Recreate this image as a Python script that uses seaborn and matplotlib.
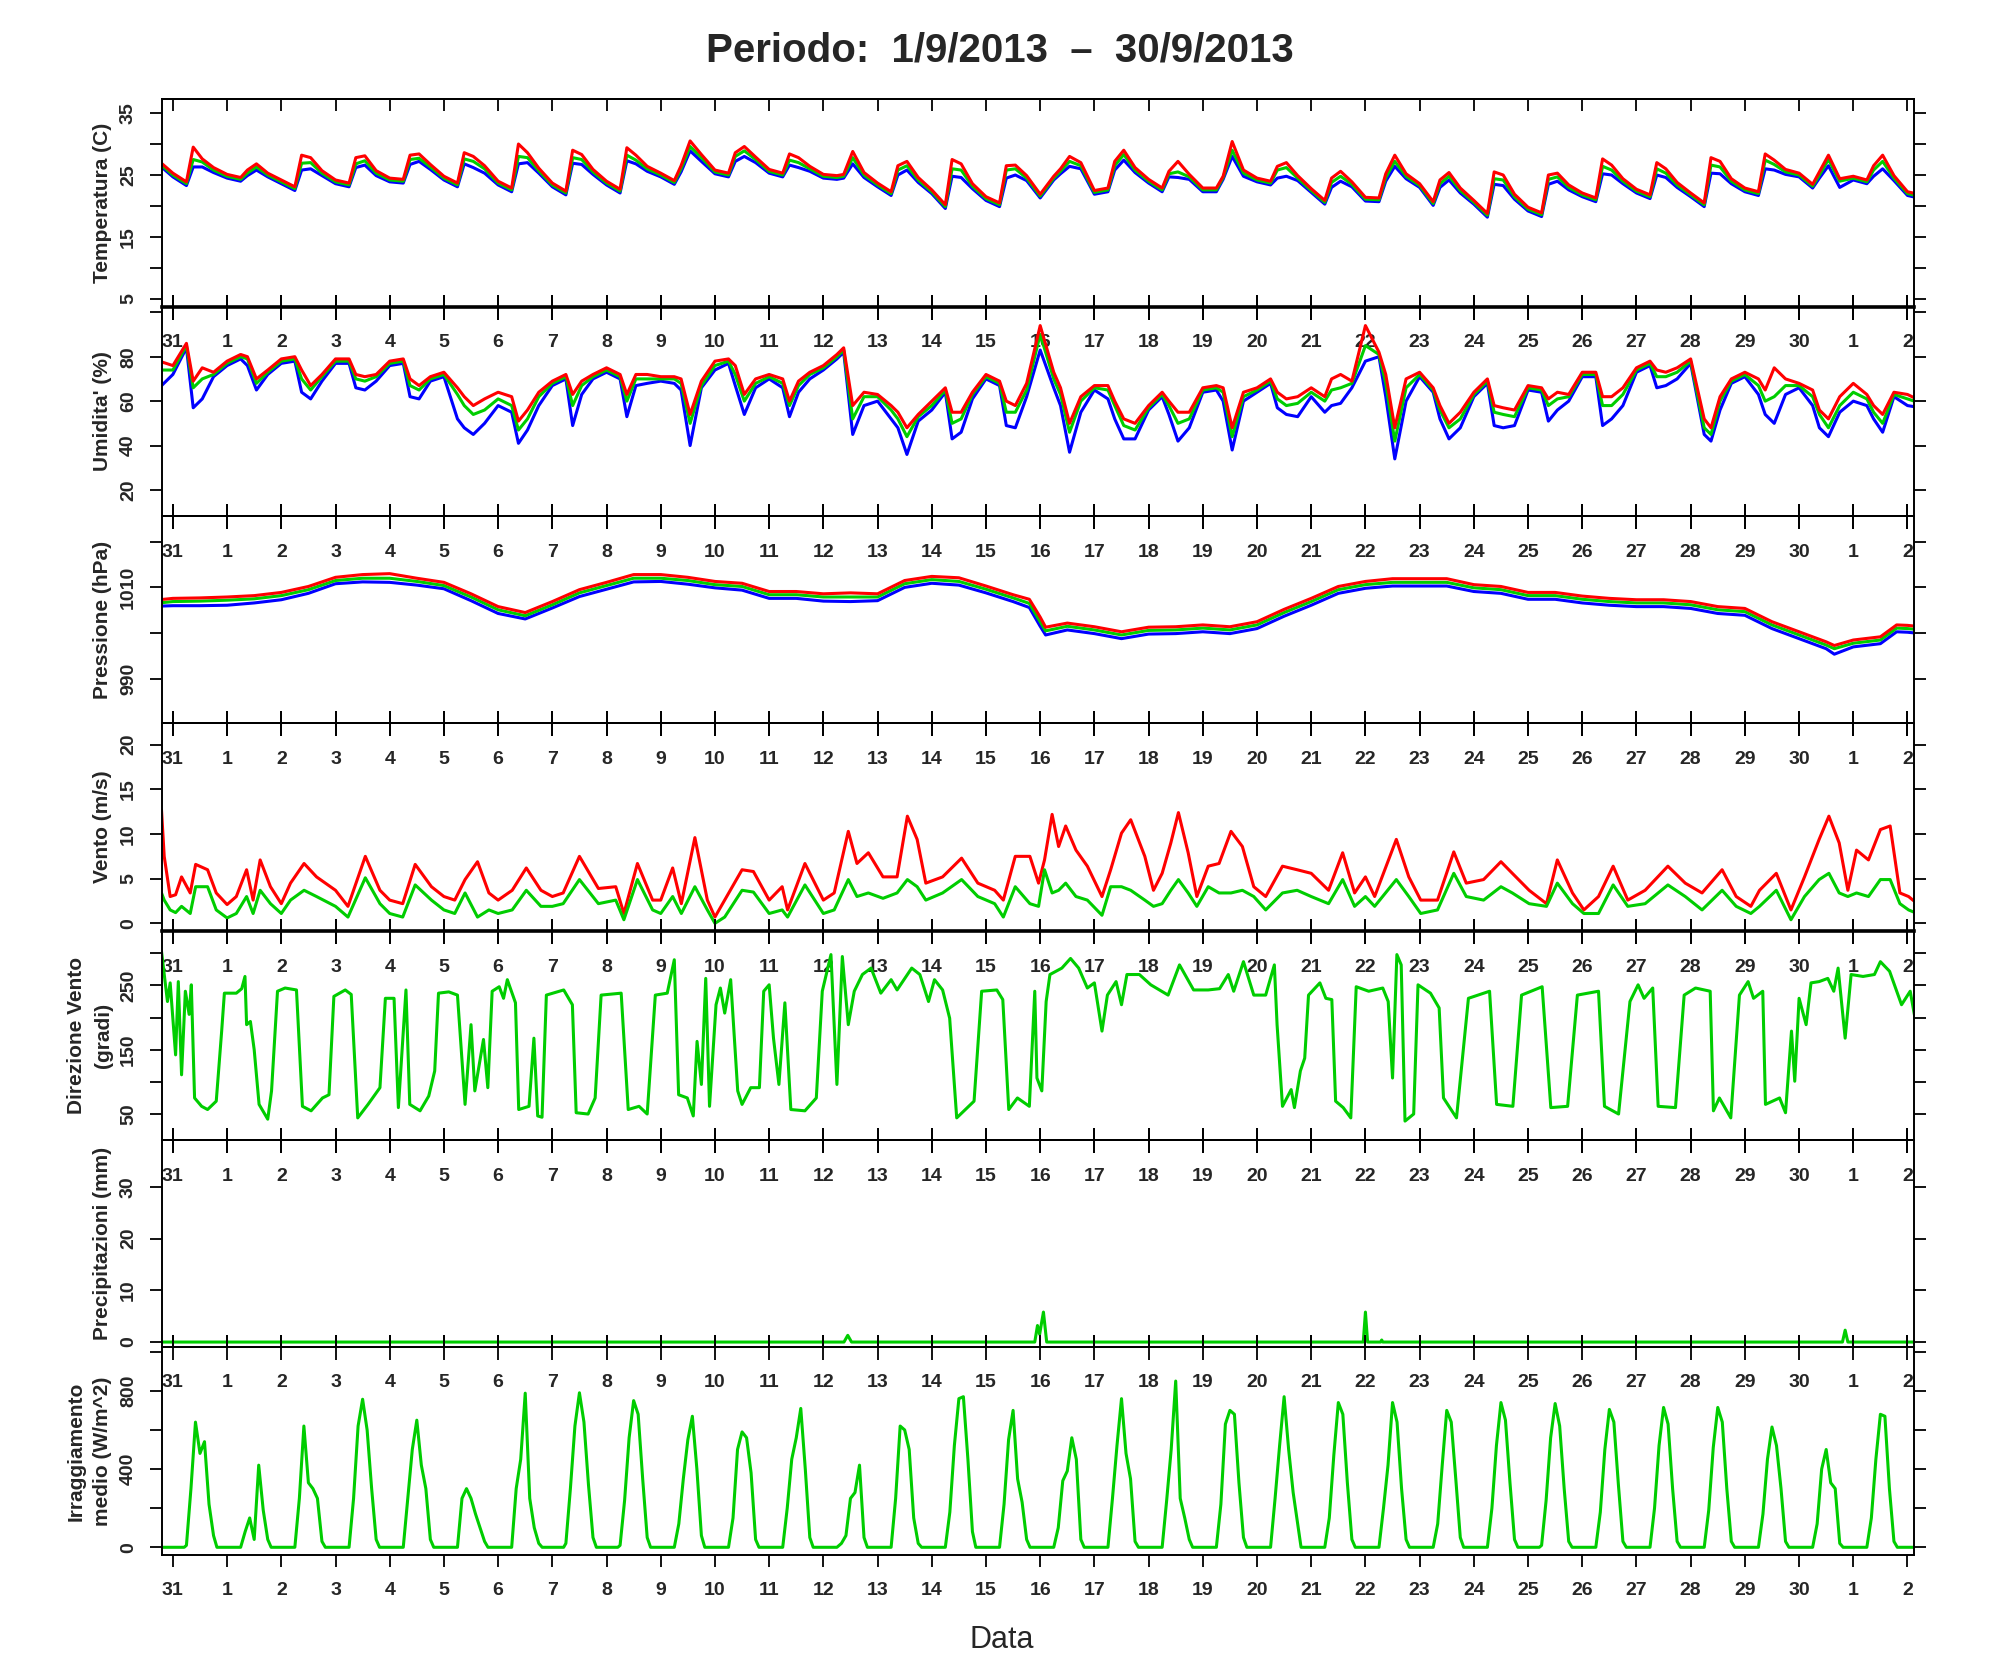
import numpy as np
import matplotlib
matplotlib.use("Agg")
import matplotlib.pyplot as plt
import seaborn as sns

# ---------------- DATA ----------------
DAY_LABELS = ["31", "1", "2", "3", "4", "5", "6", "7", "8", "9", "10", "11", "12", "13", "14", "15",
              "16", "17", "18", "19", "20", "21", "22", "23", "24", "25", "26", "27", "28", "29", "30",
              "1", "2"]
TITLE = "Periodo:  1/9/2013  \u2013  30/9/2013"

# temperature / humidity: one row per day (31 Aug ... 2 Oct) at hours 0, 6, 9, 13, 18
TH_HOURS = [0, 6, 9, 13, 18]
temp_lead = (27.2, 26.9, 26.6)   # 30 Aug 18h (max, mean, min)
temp_max = [
    [25.3, 23.9, 29.5, 27.6, 26.2], [25.1, 24.6, 25.8, 26.8, 25.3], [24.2, 23.1, 28.2, 27.8, 25.7],
    [24.2, 23.7, 27.8, 28.1, 25.7], [24.5, 24.3, 28.2, 28.4, 26.7], [24.8, 23.7, 28.6, 28.0, 26.5],
    [24.0, 22.9, 30.0, 28.6, 26.1], [23.7, 22.4, 29.0, 28.3, 25.9], [24.0, 22.7, 29.4, 28.2, 26.4],
    [25.3, 24.1, 26.5, 30.5, 28.3], [25.8, 25.3, 28.6, 29.6, 27.9], [25.9, 25.3, 28.4, 27.8, 26.4],
    [25.1, 24.9, 25.1, 28.8, 25.4], [23.7, 22.3, 26.5, 27.2, 24.6], [22.6, 20.2, 27.5, 26.8, 23.6],
    [21.5, 20.5, 26.5, 26.6, 24.9], [21.9, 24.8, 26.0, 28.0, 27.0], [22.5, 22.9, 27.2, 29.0, 26.2],
    [24.3, 22.9, 25.6, 27.2, 25.1], [22.9, 22.9, 24.8, 30.4, 25.8], [24.5, 24.0, 26.4, 27.0, 24.9],
    [22.8, 20.9, 24.5, 25.6, 23.9], [21.4, 21.3, 25.2, 28.2, 25.2], [23.6, 20.7, 24.2, 25.4, 22.9],
    [20.9, 18.8, 25.5, 25.0, 21.9], [19.8, 18.9, 25.0, 25.3, 23.4], [22.1, 21.3, 27.6, 26.6, 24.4],
    [22.7, 21.8, 27.0, 26.0, 23.8], [22.1, 20.5, 27.8, 27.2, 24.4], [22.9, 22.3, 28.4, 27.4, 25.9],
    [25.3, 23.5, 25.5, 28.2, 24.4], [24.8, 24.2, 26.5, 28.2, 24.9], [22.3, 21.8, 21.8, 21.8, 21.8]]
temp_mean = [
    [25.0, 23.6, 27.5, 27.1, 25.8], [24.8, 24.3, 25.3, 26.3, 25.0], [23.9, 22.8, 26.9, 27.0, 25.3],
    [23.9, 23.4, 26.8, 27.3, 25.3], [24.2, 24.0, 27.5, 27.7, 26.3], [24.5, 23.4, 27.6, 27.2, 26.0],
    [23.7, 22.6, 28.0, 27.8, 25.7], [23.4, 22.1, 27.8, 27.5, 25.5], [23.7, 22.4, 28.2, 27.4, 26.0],
    [25.0, 23.8, 26.0, 29.6, 27.8], [25.5, 25.0, 28.0, 28.9, 27.5], [25.6, 25.0, 27.4, 27.0, 26.0],
    [24.8, 24.6, 24.8, 27.8, 25.0], [23.4, 22.0, 25.8, 26.5, 24.2], [22.3, 19.9, 26.0, 25.8, 23.2],
    [21.2, 20.2, 25.8, 26.0, 24.5], [21.6, 24.5, 25.6, 27.2, 26.5], [22.2, 22.6, 26.5, 28.3, 25.8],
    [24.0, 22.6, 25.2, 25.5, 24.7], [22.6, 22.6, 24.6, 29.0, 25.3], [24.2, 23.7, 25.8, 26.2, 24.5],
    [22.5, 20.6, 23.8, 24.8, 23.5], [21.1, 21.0, 24.6, 27.2, 24.8], [23.3, 20.4, 23.6, 24.8, 22.5],
    [20.6, 18.5, 24.4, 24.2, 21.5], [19.5, 18.6, 24.3, 24.7, 23.0], [21.8, 21.0, 26.4, 25.8, 24.0],
    [22.4, 21.5, 26.0, 25.3, 23.4], [21.8, 20.2, 26.6, 26.3, 24.0], [22.6, 22.0, 27.4, 26.7, 25.5],
    [25.0, 23.2, 25.0, 27.5, 24.0], [24.5, 23.9, 25.8, 27.2, 24.5], [22.0, 21.5, 21.5, 21.5, 21.5]]
temp_min = [
    [24.7, 23.3, 26.3, 26.3, 25.4], [24.5, 24.0, 24.9, 25.8, 24.7], [23.6, 22.5, 25.8, 26.0, 24.9],
    [23.6, 23.1, 26.2, 26.6, 24.9], [23.9, 23.7, 26.7, 27.2, 25.9], [24.2, 23.1, 26.8, 26.2, 25.3],
    [23.4, 22.3, 26.8, 27.0, 25.3], [23.1, 21.8, 26.9, 26.7, 25.1], [23.4, 22.1, 27.3, 26.8, 25.6],
    [24.7, 23.5, 25.5, 28.9, 27.2], [25.2, 24.7, 27.2, 28.0, 27.0], [25.3, 24.7, 26.6, 26.2, 25.6],
    [24.5, 24.3, 24.5, 26.8, 24.6], [23.1, 21.7, 25.0, 25.8, 23.8], [22.0, 19.6, 24.8, 24.6, 22.8],
    [20.9, 19.9, 24.5, 25.0, 24.1], [21.3, 24.2, 25.2, 26.4, 26.0], [21.9, 22.3, 25.8, 27.4, 25.4],
    [23.7, 22.3, 24.7, 24.6, 24.3], [22.3, 22.3, 24.3, 28.0, 24.8], [23.9, 23.4, 24.5, 24.8, 24.1],
    [22.2, 20.3, 23.0, 24.0, 23.1], [20.8, 20.7, 24.0, 26.4, 24.4], [23.0, 20.1, 23.0, 24.2, 22.1],
    [20.3, 18.2, 23.5, 23.3, 21.1], [19.2, 18.3, 23.5, 24.0, 22.6], [21.5, 20.7, 25.2, 25.0, 23.6],
    [22.1, 21.2, 25.0, 24.6, 23.0], [21.5, 19.9, 25.3, 25.2, 23.6], [22.3, 21.7, 26.0, 25.8, 25.1],
    [24.7, 22.9, 24.5, 26.5, 23.0], [24.2, 23.6, 24.8, 26.0, 24.1], [21.7, 21.2, 21.2, 21.2, 21.2]]

hum_lead = (78, 74, 66)
hum_max = [
    [76, 86, 69, 75, 73], [78, 81, 80, 70, 74], [79, 80, 74, 67, 72], [79, 79, 72, 71, 72],
    [78, 79, 70, 67, 71], [73, 66, 62, 58, 61], [64, 62, 51, 56, 64], [69, 72, 63, 69, 72],
    [75, 72, 63, 72, 72], [71, 71, 70, 54, 69], [78, 79, 76, 63, 70], [72, 70, 60, 69, 73],
    [76, 81, 84, 58, 64], [63, 58, 55, 48, 54], [60, 66, 55, 55, 64], [72, 69, 60, 58, 68],
    [94, 73, 66, 50, 62], [67, 67, 60, 52, 50], [58, 64, 60, 55, 55], [66, 67, 66, 48, 64],
    [66, 70, 64, 61, 62], [66, 62, 70, 72, 69], [94, 82, 72, 48, 70], [73, 66, 58, 50, 55],
    [64, 70, 58, 57, 56], [67, 66, 61, 64, 63], [73, 73, 62, 62, 66], [75, 78, 74, 73, 75],
    [79, 52, 48, 62, 70], [73, 70, 65, 75, 70], [68, 65, 56, 52, 62], [68, 63, 58, 54, 64],
    [63, 60, 60, 60, 60]]
hum_mean = [
    [74, 85, 66, 70, 72], [77, 80, 79, 68, 73], [78, 79, 70, 65, 71], [78, 78, 70, 69, 71],
    [77, 78, 67, 65, 70], [72, 63, 58, 54, 56], [61, 58, 47, 52, 62], [68, 71, 58, 67, 71],
    [74, 71, 60, 70, 70], [70, 70, 68, 50, 67], [76, 78, 72, 60, 68], [71, 68, 58, 67, 72],
    [75, 80, 83, 52, 62], [62, 56, 52, 44, 53], [58, 65, 50, 52, 63], [71, 68, 55, 55, 65],
    [90, 70, 63, 46, 60], [66, 65, 58, 49, 47], [57, 63, 58, 50, 52], [65, 66, 64, 44, 62],
    [65, 69, 61, 58, 59], [64, 60, 65, 66, 68], [85, 81, 68, 42, 66], [72, 65, 56, 48, 52],
    [63, 69, 55, 54, 53], [66, 65, 58, 61, 62], [72, 72, 58, 58, 63], [74, 77, 71, 71, 73],
    [78, 48, 45, 60, 69], [72, 67, 60, 62, 67], [67, 62, 54, 48, 58], [64, 61, 55, 50, 63],
    [61, 59, 59, 59, 59]]
hum_min = [
    [72, 84, 57, 61, 71], [76, 79, 76, 65, 72], [77, 78, 64, 61, 69], [77, 77, 66, 65, 69],
    [76, 77, 62, 61, 69], [71, 52, 48, 45, 50], [58, 55, 41, 47, 58], [67, 70, 49, 63, 70],
    [73, 70, 53, 67, 68], [69, 68, 65, 40, 66], [74, 77, 67, 54, 66], [70, 66, 53, 64, 70],
    [74, 79, 82, 45, 58], [60, 52, 48, 36, 51], [56, 64, 43, 46, 61], [70, 67, 49, 48, 62],
    [83, 66, 58, 37, 55], [65, 61, 52, 43, 43], [56, 62, 54, 42, 48], [64, 65, 60, 38, 60],
    [64, 68, 57, 54, 53], [62, 55, 58, 59, 66], [78, 80, 62, 34, 60], [71, 64, 52, 43, 48],
    [62, 68, 49, 48, 49], [65, 64, 51, 56, 60], [71, 71, 49, 52, 58], [73, 76, 66, 67, 70],
    [77, 45, 42, 56, 68], [71, 63, 54, 50, 63], [66, 58, 48, 44, 55], [60, 58, 52, 46, 62],
    [58, 57, 57, 57, 57]]

# pressure (days since 31 Aug 00:00)
press_t = [-0.25, 0, 0.5, 1, 1.5, 2, 2.5, 3, 3.5, 4, 4.5, 5, 5.5, 6, 6.5, 7, 7.5, 8, 8.5, 9, 9.5,
           10, 10.5, 11, 11.5, 12, 12.5, 13, 13.5, 14, 14.5, 15, 15.5, 15.8, 16.0, 16.1, 16.5,
           17, 17.5, 18, 18.5, 19, 19.5, 20, 20.5, 21, 21.5, 22, 22.5, 23, 23.5, 24, 24.5, 25,
           25.5, 26, 26.5, 27, 27.5, 28, 28.5, 29, 29.5, 30, 30.5, 30.65, 31, 31.5, 31.8, 32, 32.25]
press_max = [1007.3, 1007.6, 1007.7, 1007.9, 1008.2, 1008.9, 1010.2, 1012.2, 1012.8, 1013.0,
             1012.0, 1011.1, 1008.6, 1005.8, 1004.5, 1006.9, 1009.5, 1011.1, 1012.8, 1012.8,
             1012.2, 1011.3, 1010.9, 1009.1, 1009.1, 1008.6, 1008.8, 1008.6, 1011.5, 1012.4,
             1012.1, 1010.3, 1008.4, 1007.4, 1003.5, 1001.3, 1002.2, 1001.4, 1000.3, 1001.3,
             1001.4, 1001.8, 1001.4, 1002.5, 1005.2, 1007.6, 1010.2, 1011.3, 1011.9, 1011.9,
             1011.9, 1010.6, 1010.2, 1008.9, 1008.9, 1008.1, 1007.6, 1007.3, 1007.3, 1006.9,
             1005.8, 1005.4, 1002.5, 1000.3, 998.1, 997.3, 998.5, 999.2, 1001.8, 1001.7, 1001.4]
press_mean = [1006.6, 1006.9, 1007.0, 1007.2, 1007.5, 1008.2, 1009.5, 1011.5, 1012.0, 1012.0,
              1011.3, 1010.4, 1007.9, 1005.1, 1003.8, 1006.2, 1008.8, 1010.4, 1012.0, 1012.0,
              1011.5, 1010.6, 1010.2, 1008.4, 1008.4, 1007.9, 1007.9, 1007.9, 1010.8, 1011.7,
              1011.3, 1009.6, 1007.7, 1006.5, 1002.5, 1000.5, 1001.5, 1000.7, 999.6, 1000.6,
              1000.7, 1001.1, 1000.7, 1001.8, 1004.5, 1006.9, 1009.5, 1010.6, 1011.1, 1011.1,
              1011.1, 1009.9, 1009.5, 1008.2, 1008.2, 1007.4, 1006.9, 1006.6, 1006.6, 1006.2,
              1005.1, 1004.7, 1001.8, 999.6, 997.4, 996.6, 997.8, 998.5, 1001.1, 1001.0, 1000.7]
press_min = [1005.9, 1006.0, 1006.0, 1006.1, 1006.6, 1007.3, 1008.7, 1010.8, 1011.2, 1011.1,
             1010.5, 1009.7, 1007.1, 1004.3, 1003.1, 1005.5, 1008.0, 1009.6, 1011.2, 1011.3,
             1010.7, 1009.9, 1009.4, 1007.6, 1007.6, 1007.0, 1006.9, 1007.1, 1010.0, 1010.9,
             1010.5, 1008.8, 1006.9, 1005.6, 1001.5, 999.6, 1000.7, 999.9, 998.8, 999.8,
             999.9, 1000.3, 999.9, 1001.0, 1003.7, 1006.1, 1008.7, 1009.8, 1010.3, 1010.3,
             1010.3, 1009.1, 1008.7, 1007.4, 1007.4, 1006.6, 1006.1, 1005.8, 1005.8, 1005.4,
             1004.3, 1003.9, 1001.0, 998.8, 996.6, 995.4, 997.0, 997.7, 1000.3, 1000.2, 999.9]

# wind (gust = red, mean = green)
wind_t = [-0.21, -0.16, -0.05, 0.05, 0.16, 0.32, 0.42, 0.64, 0.8, 1.0, 1.17, 1.36, 1.48, 1.61, 1.8,
          2.0, 2.17, 2.42, 2.65, 3.0, 3.23, 3.55, 3.82, 4.0, 4.24, 4.47, 4.77, 5.0, 5.2, 5.39, 5.62,
          5.83, 6.0, 6.26, 6.52, 6.79, 7.0, 7.2, 7.5, 7.85, 8.17, 8.32, 8.57, 8.85, 9.0, 9.22, 9.38,
          9.63, 9.86, 10.0, 10.18, 10.5, 10.71, 11.0, 11.24, 11.34, 11.66, 12.0, 12.2, 12.46, 12.62,
          12.83, 13.1, 13.36, 13.55, 13.73, 13.89, 14.2, 14.55, 14.85, 15.16, 15.32, 15.54, 15.81,
          15.97, 16.08, 16.22, 16.34, 16.47, 16.66, 16.87, 17.14, 17.3, 17.5, 17.67, 17.93, 18.09,
          18.25, 18.41, 18.55, 18.73, 18.89, 19.1, 19.3, 19.52, 19.73, 19.94, 20.16, 20.47, 20.74,
          21.0, 21.32, 21.58, 21.8, 22.0, 22.17, 22.57, 22.8, 23.02, 23.33, 23.63, 23.86, 24.18,
          24.5, 24.71, 25.02, 25.34, 25.54, 25.82, 26.03, 26.3, 26.57, 26.84, 27.16, 27.58, 27.9,
          28.21, 28.58, 28.84, 29.11, 29.27, 29.58, 29.85, 30.1, 30.37, 30.55, 30.74, 30.9, 31.06,
          31.28, 31.5, 31.68, 31.86, 32.02, 32.18]
wind_gust = [12.7, 7.5, 3.0, 3.2, 5.2, 3.4, 6.6, 6.0, 3.4, 2.1, 3.0, 6.0, 2.6, 7.1, 4.1,
             2.2, 4.5, 6.7, 5.2, 3.7, 1.9, 7.5, 3.7, 2.6, 2.2, 6.6, 4.1, 3.0, 2.6, 4.9, 6.9,
             3.4, 2.6, 3.7, 6.2, 3.7, 3.0, 3.4, 7.5, 3.9, 4.1, 1.1, 6.7, 2.6, 2.6, 6.2, 2.2,
             9.6, 2.6, 0.7, 2.6, 6.0, 5.8, 2.6, 4.1, 1.5, 6.7, 2.6, 3.4, 10.3, 6.7,
             7.9, 5.2, 5.2, 12.0, 9.4, 4.5, 5.2, 7.3, 4.5, 3.7, 2.6, 7.5, 7.5,
             4.5, 7.1, 12.2, 8.6, 10.9, 8.2, 6.4, 3.0, 6.0, 10.1, 11.6, 7.5, 3.7,
             5.6, 9.0, 12.4, 7.9, 3.0, 6.4, 6.7, 10.3, 8.6, 4.1, 3.0, 6.4, 6.0,
             5.6, 3.7, 7.9, 3.4, 5.2, 3.0, 9.4, 5.2, 2.6, 2.6, 8.0, 4.5, 4.9,
             6.9, 5.6, 3.7, 2.2, 7.1, 3.4, 1.5, 3.0, 6.4, 2.6, 3.7, 6.4, 4.5,
             3.4, 6.0, 3.0, 1.9, 3.7, 5.6, 1.5, 5.2, 9.4, 12.0, 9.0, 3.7, 8.2,
             7.1, 10.5, 10.9, 3.4, 3.0, 2.2]
wind_mean = [3.4, 2.6, 1.5, 1.2, 1.9, 1.1, 4.1, 4.1, 1.5, 0.6, 1.1, 3.0, 1.1, 3.7, 2.2,
             1.1, 2.6, 3.7, 3.0, 1.9, 0.7, 5.1, 2.2, 1.1, 0.7, 4.3, 2.6, 1.5, 1.1, 3.4, 0.7,
             1.5, 1.1, 1.5, 3.7, 1.9, 1.9, 2.2, 4.9, 2.2, 2.6, 0.4, 4.9, 1.5, 1.1, 3.0, 1.1,
             4.1, 1.5, 0.0, 0.7, 3.7, 3.5, 1.1, 1.5, 0.7, 4.3, 1.1, 1.5, 4.9, 3.0,
             3.4, 2.8, 3.4, 4.9, 4.1, 2.6, 3.4, 4.9, 3.0, 2.2, 0.7, 4.1, 2.2,
             1.9, 6.0, 3.4, 3.7, 4.5, 3.0, 2.6, 0.9, 4.1, 4.1, 3.7, 2.6, 1.9,
             2.2, 3.7, 4.9, 3.4, 1.9, 4.1, 3.4, 3.4, 3.7, 3.0, 1.5, 3.4, 3.7,
             3.0, 2.2, 4.9, 1.9, 3.0, 1.9, 4.9, 3.0, 1.1, 1.5, 5.6, 3.0, 2.6,
             4.1, 3.4, 2.2, 1.9, 4.5, 2.2, 1.1, 1.1, 4.3, 1.9, 2.2, 4.3, 3.0,
             1.5, 3.7, 1.9, 1.1, 1.9, 3.7, 0.4, 3.0, 4.9, 5.6, 3.4, 3.0, 3.4,
             3.0, 4.9, 4.9, 2.2, 1.5, 1.1]

# wind direction (degrees)
dir_t = [-0.21, -0.1, -0.05, 0.05, 0.1, 0.16, 0.23, 0.3, 0.34, 0.4, 0.53, 0.64, 0.8, 0.9, 0.95,
         1.17, 1.27, 1.33, 1.36, 1.43, 1.5, 1.59, 1.75, 1.82, 1.93, 2.07, 2.28, 2.39, 2.55, 2.76,
         2.88, 2.97, 3.18, 3.29, 3.41, 3.6, 3.82, 3.92, 4.08, 4.16, 4.3, 4.37, 4.56, 4.72, 4.83,
         4.9, 5.09, 5.25, 5.39, 5.5, 5.57, 5.73, 5.81, 5.89, 6.02, 6.1, 6.17, 6.32, 6.38, 6.57,
         6.66, 6.73, 6.81, 6.89, 7.21, 7.37, 7.44, 7.66, 7.79, 7.9, 8.27, 8.4, 8.6, 8.75, 8.9,
         9.12, 9.25, 9.33, 9.49, 9.6, 9.67, 9.75, 9.83, 9.9, 10.02, 10.1, 10.18, 10.29, 10.42,
         10.5, 10.66, 10.82, 10.9, 11.0, 11.08, 11.18, 11.29, 11.4, 11.66, 11.87, 11.98, 12.14,
         12.25, 12.35, 12.46, 12.57, 12.72, 12.88, 13.06, 13.25, 13.36, 13.63, 13.78, 13.94,
         14.05, 14.2, 14.33, 14.46, 14.62, 14.78, 14.92, 15.2, 15.31, 15.42, 15.58, 15.8, 15.9,
         15.94, 16.03, 16.11, 16.18, 16.4, 16.56, 16.71, 16.87, 17.0, 17.14, 17.24, 17.4, 17.5,
         17.6, 17.83, 18.04, 18.36, 18.57, 18.83, 19.1, 19.31, 19.47, 19.57, 19.75, 19.94, 20.16,
         20.32, 20.37, 20.47, 20.63, 20.69, 20.8, 20.88, 20.95, 21.16, 21.27, 21.38, 21.45, 21.59,
         21.73, 21.83, 22.06, 22.32, 22.42, 22.5, 22.58, 22.66, 22.73, 22.89, 22.97, 23.2, 23.36,
         23.44, 23.68, 23.9, 24.29, 24.42, 24.72, 24.88, 25.26, 25.42, 25.73, 25.91, 26.3, 26.41,
         26.67, 26.88, 27.03, 27.14, 27.3, 27.4, 27.72, 27.88, 28.09, 28.36, 28.42, 28.53, 28.74,
         28.9, 29.06, 29.16, 29.33, 29.38, 29.64, 29.75, 29.86, 29.92, 30.0, 30.13, 30.22, 30.37,
         30.53, 30.64, 30.72, 30.85, 30.96, 31.18, 31.39, 31.5, 31.67, 31.89, 32.05, 32.16]
dir_deg = [303, 225, 254, 142, 256, 111, 241, 205, 251, 75, 62, 57, 70, 179, 238,
           238, 245, 264, 189, 194, 150, 65, 42, 86, 241, 246, 243, 62, 55, 75,
           80, 233, 243, 236, 44, 65, 91, 230, 230, 60, 243, 65, 55, 78, 117,
           238, 240, 235, 65, 189, 86, 166, 91, 241, 248, 230, 259, 223, 57, 62,
           168, 47, 45, 235, 243, 220, 52, 50, 75, 235, 238, 57, 62, 50, 235,
           238, 290, 80, 75, 47, 163, 96, 261, 62, 220, 246, 207, 259, 86,
           65, 91, 91, 241, 251, 168, 96, 223, 57, 55, 75, 241, 298,
           96, 295, 189, 241, 267, 277, 238, 259, 243, 277, 267, 225,
           259, 243, 199, 44, 57, 70, 241, 243, 228, 57, 75, 62, 241,
           106, 86, 225, 267, 277, 292, 277, 246, 254, 179, 235, 256, 220,
           267, 267, 251, 235, 282, 243, 243, 245, 267, 241, 287, 235, 235,
           282, 189, 62, 88, 60, 117, 137, 235, 254, 230, 228, 70, 60,
           44, 248, 241, 246, 225, 106, 298, 282, 39, 50, 251, 238, 215,
           75, 44, 230, 241, 65, 62, 235, 248, 60, 62, 235, 241, 62,
           50, 225, 251, 230, 246, 62, 60, 235, 246, 241, 55, 75, 44,
           235, 256, 230, 241, 65, 75, 52, 179, 101, 230, 189, 254, 256,
           261, 241, 277, 168, 267, 264, 267, 287, 272, 220, 241, 189]

# precipitation (mm)
rain_t = [-0.21, 12.38, 12.45, 12.52, 15.9, 15.95, 15.99, 16.03, 16.06, 16.12,
          21.96, 22.0, 22.04, 22.28, 22.3, 22.32, 30.8, 30.85, 30.9, 32.2]
rain_mm = [0, 0, 1.3, 0, 0, 3.2, 1.5, 4.0, 5.8, 0,
           0, 5.8, 0, 0, 0.4, 0, 0, 2.3, 0, 0]

# mean irradiance (W/m^2): one row per day (31 Aug ... 1 Oct) at hours 6, 8, ..., 18
IRR_HOURS = [6, 8, 10, 12, 14, 16, 18]
irr_day = [
    [10, 300, 640, 480, 540, 220, 60], [0, 80, 150, 40, 420, 190, 40], [0, 250, 620, 330, 300, 250, 30],
    [0, 250, 620, 757, 600, 300, 40], [0, 250, 500, 650, 420, 300, 40], [0, 250, 300, 250, 170, 100, 30],
    [0, 300, 450, 788, 250, 100, 20], [20, 300, 620, 790, 640, 320, 50], [10, 240, 560, 750, 680, 350, 50],
    [0, 120, 350, 550, 670, 400, 60], [0, 150, 500, 590, 560, 380, 40], [0, 200, 450, 560, 710, 400, 50],
    [0, 20, 60, 250, 280, 420, 50], [0, 250, 620, 600, 500, 150, 20], [0, 180, 520, 760, 770, 450, 80],
    [0, 220, 550, 700, 350, 230, 40], [0, 100, 340, 390, 560, 450, 40], [0, 250, 520, 760, 480, 350, 30],
    [0, 240, 500, 850, 250, 150, 40], [0, 220, 630, 700, 680, 330, 50], [0, 250, 520, 770, 500, 280, 120],
    [0, 150, 470, 740, 680, 330, 40], [0, 200, 420, 740, 640, 300, 40], [0, 120, 420, 700, 640, 350, 50],
    [0, 200, 520, 740, 650, 330, 40], [10, 240, 560, 735, 620, 300, 30], [0, 180, 500, 705, 640, 320, 30],
    [0, 200, 520, 715, 630, 300, 30], [0, 190, 510, 715, 640, 300, 30], [0, 170, 450, 615, 520, 300, 30],
    [0, 120, 400, 500, 330, 300, 20], [0, 150, 450, 680, 670, 300, 30]]

# ---------------- helpers ----------------
def day_series(lead, rows, hours):
    t = [-0.25] + [d + h / 24.0 for d in range(len(rows)) for h in hours]
    v = [lead] + [x for r in rows for x in r]
    return np.array(t), np.array(v, dtype=float)

def irr_series(rows, hours):
    t, v = [-0.25], [0.0]
    for d, r in enumerate(rows):
        t.append(d + 5 / 24.0); v.append(0.0)
        for h, x in zip(hours, r):
            t.append(d + h / 24.0); v.append(x)
        t.append(d + 19.5 / 24.0); v.append(0.0)
    t.append(32.3); v.append(0.0)
    return np.array(t), np.array(v, dtype=float)

# ---------------- figure ----------------
sns.set_theme(style="ticks")
plt.rcParams['font.family'] = ['Liberation Sans', 'DejaVu Sans']

W, H = 1991, 1680
fig = plt.figure(figsize=(W / 100, H / 100), dpi=100)

RED, GREEN, BLUE = "#FF0000", "#00CD00", "#0000FF"
LW = 2.2
left_px, right_px = 161.5, 1914.0
bounds = [99, 306.7, 516, 723.3, 931, 1140, 1346.7, 1555]
XLIM = (-0.21, 32.12)

panels = [
    dict(ylim=(3.76, 37.26), ticks=[5, 10, 15, 20, 25, 30, 35], labels=["5", "", "15", "", "25", "", "35"],
         ylab=["Temperatura (C)"]),
    dict(ylim=(8.3, 102.5), ticks=[20, 40, 60, 80, 100], labels=["20", "40", "60", "80", ""],
         ylab=["Umidita' (%)"]),
    dict(ylim=(980.3, 1025.6), ticks=[990, 1000, 1010, 1020], labels=["990", "", "1010", ""],
         ylab=["Pressione (hPa)"]),
    dict(ylim=(-0.86, 22.4), ticks=[0, 5, 10, 15, 20], labels=["0", "5", "10", "15", "20"],
         ylab=["Vento (m/s)"]),
    dict(ylim=(9.6, 334.7), ticks=[50, 100, 150, 200, 250, 300], labels=["50", "", "150", "", "250", ""],
         ylab=["Direzione Vento", "(gradi)"]),
    dict(ylim=(-0.9, 39.1), ticks=[0, 10, 20, 30], labels=["0", "10", "20", "30"],
         ylab=["Precipitazioni (mm)"]),
    dict(ylim=(-39.4, 1025.6), ticks=[0, 200, 400, 600, 800, 1000], labels=["0", "", "400", "", "800", ""],
         ylab=["Irraggiamento", "medio (W/m^2)"]),
]
THICK_BOTTOM = {0, 3}   # boundaries that appear heavier in the reference

axes = []
for i, p in enumerate(panels):
    top, bot = bounds[i], bounds[i + 1]
    ax = fig.add_axes([left_px / W, 1 - bot / H, (right_px - left_px) / W, (bot - top) / H])
    ax.set_facecolor("none")
    ax.set_xlim(*XLIM)
    ax.set_ylim(*p["ylim"])
    axes.append(ax)

# data
tt, tmx = day_series(temp_lead[0], temp_max, TH_HOURS)
_, tmn = day_series(temp_lead[1], temp_mean, TH_HOURS)
_, tmi = day_series(temp_lead[2], temp_min, TH_HOURS)
ht, hmx = day_series(hum_lead[0], hum_max, TH_HOURS)
_, hmn = day_series(hum_lead[1], hum_mean, TH_HOURS)
_, hmi = day_series(hum_lead[2], hum_min, TH_HOURS)
it, iv = irr_series(irr_day, IRR_HOURS)

def line(ax, x, y, c):
    sns.lineplot(x=np.asarray(x, float), y=np.asarray(y, float), ax=ax, color=c, linewidth=LW,
                 sort=False, estimator=None, legend=False)

line(axes[0], tt, tmi, BLUE); line(axes[0], tt, tmn, GREEN); line(axes[0], tt, tmx, RED)
line(axes[1], ht, hmi, BLUE); line(axes[1], ht, hmn, GREEN); line(axes[1], ht, hmx, RED)
line(axes[2], press_t, press_min, BLUE); line(axes[2], press_t, press_mean, GREEN); line(axes[2], press_t, press_max, RED)
line(axes[3], wind_t, wind_gust, RED); line(axes[3], wind_t, wind_mean, GREEN)
line(axes[4], dir_t, dir_deg, GREEN)
line(axes[5], rain_t, rain_mm, GREEN)
line(axes[6], it, iv, GREEN)

PX = 72 / 100.0  # points per pixel
for i, (ax, p) in enumerate(zip(axes, panels)):
    ax.set_xlabel(""); ax.set_ylabel("")
    for s in ax.spines.values():
        s.set_visible(True); s.set_color("black"); s.set_linewidth(1.4)
    if i in THICK_BOTTOM:
        ax.spines["bottom"].set_linewidth(2.6)
    ax.set_xticks(range(len(DAY_LABELS)))
    ax.set_xticklabels(DAY_LABELS, fontweight="bold", fontsize=14)
    last = (i == len(axes) - 1)
    ax.tick_params(axis="x", which="major", bottom=True, top=(i != 0), labelbottom=True, labeltop=False,
                   direction=("out" if last else "inout"), length=(12 if last else 25) * PX,
                   width=1.3, color="black", pad=11)
    ax.set_yticks(p["ticks"])
    ax.set_yticklabels(p["labels"], fontweight="bold", fontsize=14, rotation=90, va="center")
    ax.tick_params(axis="y", which="major", left=True, right=True, labelleft=True, labelright=False,
                   direction="out", length=12 * PX, width=1.3, color="black", pad=9)
    ax.grid(False)
    # y axis title
    yc = 1 - (bounds[i] + bounds[i + 1]) / 2 / H
    if len(p["ylab"]) == 1:
        fig.text(102 / W, yc, p["ylab"][0], rotation=90, ha="center", va="center",
                 fontsize=15, fontweight="bold")
    else:
        fig.text(76 / W, yc, p["ylab"][0], rotation=90, ha="center", va="center",
                 fontsize=15, fontweight="bold")
        fig.text(103 / W, yc, p["ylab"][1], rotation=90, ha="center", va="center",
                 fontsize=15, fontweight="bold")

# inward ticks on the very top edge
sec = axes[0].secondary_xaxis("top")
sec.set_xticks(range(len(DAY_LABELS)))
sec.tick_params(axis="x", direction="in", length=12 * PX, width=1.3, labeltop=False, color="black")
sec.spines["top"].set_linewidth(1.4)

fig.text(1000 / W, 1 - 51 / H, TITLE, ha="center", va="center", fontsize=29, fontweight="bold")
fig.text(1002 / W, 1 - 1640 / H, "Data", ha="center", va="center", fontsize=22)

fig.savefig("out.png", dpi=100, facecolor="white")
